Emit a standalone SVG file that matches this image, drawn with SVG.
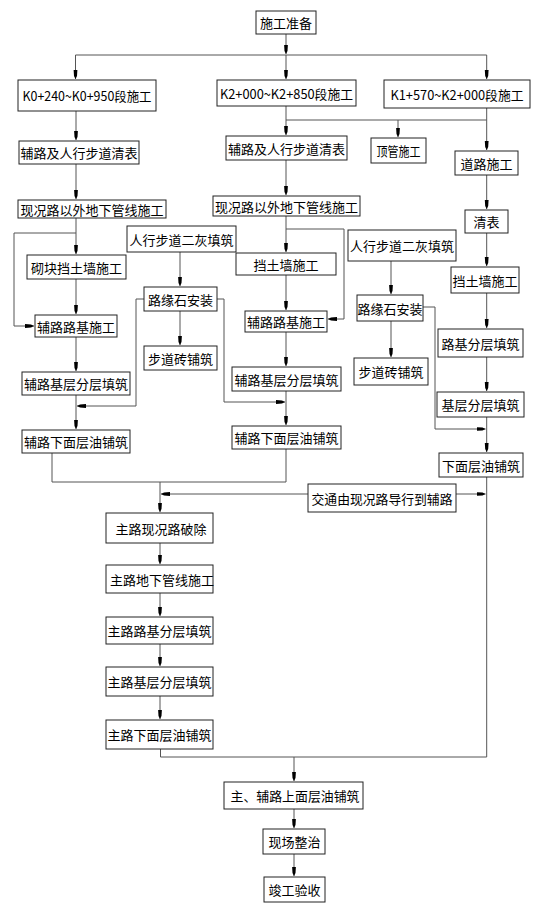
<svg xmlns="http://www.w3.org/2000/svg" width="555" height="921" viewBox="0 0 555 921">
<defs>
<marker id="ah" markerUnits="userSpaceOnUse" markerWidth="9" markerHeight="5" viewBox="0 0 9 5" refX="9" refY="2.5" orient="auto"><path d="M0,0.6 L6,1 L9,2.5 L6,4 L0,4.4 z" fill="#000"/></marker>
<style>
.n rect{fill:#fff;stroke:#222;stroke-width:1}
.n text{font-family:"Noto Sans CJK SC","Liberation Sans",sans-serif;font-size:13px;fill:#000;text-anchor:middle;dominant-baseline:central}
#edges path{fill:none;stroke:#555;stroke-width:1}
#edges path.a{marker-end:url(#ah)}
</style>
</defs>
<rect width="555" height="921" fill="#fff"/>
<g id="edges">
<path class="a" d="M286,34 V54"/>
<path d="M75.5,55 H486.7"/>
<path class="a" d="M75.5,55 V79"/>
<path class="a" d="M286,55 V79"/>
<path class="a" d="M486.7,55 V79"/>
<path class="a" d="M76,111 V140"/>
<path class="a" d="M76,164 V199"/>
<path class="a" d="M76,218 V254"/>
<path class="a" d="M76,233 H14 V326 H34"/>
<path class="a" d="M76,279 V314"/>
<path class="a" d="M76,337 V371"/>
<path class="a" d="M76,395 V429"/>
<path class="a" d="M144,299 H136 V406 H77"/>
<path class="a" d="M180,252 V286"/>
<path class="a" d="M180,311 V345"/>
<path class="a" d="M217,299 H224 V402 H285"/>
<path class="a" d="M286,106 V135"/>
<path d="M286,120 H486.7"/>
<path class="a" d="M398,120 V137"/>
<path class="a" d="M486.7,108 V150"/>
<path class="a" d="M286,160 V195"/>
<path class="a" d="M286,216 V252"/>
<path class="a" d="M286,229 H344 V319 H328"/>
<path class="a" d="M286,275 V310"/>
<path class="a" d="M286,332 V366"/>
<path class="a" d="M286,391 V425"/>
<path class="a" d="M391,261 V294"/>
<path class="a" d="M391,321 V357"/>
<path class="a" d="M423,307 H435 V429 H485.5"/>
<path class="a" d="M486.7,175 V209"/>
<path class="a" d="M486.7,233 V266"/>
<path class="a" d="M486.7,293 V328"/>
<path class="a" d="M486.7,357 V391"/>
<path class="a" d="M486.7,417 V452"/>
<path d="M52,453 V482 H286 V449"/>
<path class="a" d="M160,482 V512"/>
<path class="a" d="M308,494 H161"/>
<path class="a" d="M456,494 H485.5"/>
<path d="M486.7,477 V757 H160.5 V749"/>
<path class="a" d="M294,757 V781"/>
<path class="a" d="M160,543 V564"/>
<path class="a" d="M160,593 V616"/>
<path class="a" d="M160,644 V666"/>
<path class="a" d="M160,696 V719"/>
<path class="a" d="M294,809 V828"/>
<path class="a" d="M294,854 V876"/>
</g>
<g id="n1" class="n"><rect x="256" y="11" width="60" height="23"/><text x="286" y="22.5">施工准备</text></g>
<g id="n2" class="n"><rect x="18" y="80" width="138" height="31"/><text x="87" y="95.5" textLength="129" lengthAdjust="spacingAndGlyphs">K0+240~K0+950段施工</text></g>
<g id="n3" class="n"><rect x="217" y="80" width="139" height="26"/><text x="286.5" y="93" textLength="133" lengthAdjust="spacingAndGlyphs">K2+000~K2+850段施工</text></g>
<g id="n4" class="n"><rect x="384" y="80" width="146" height="28"/><text x="457" y="94" textLength="133" lengthAdjust="spacingAndGlyphs">K1+570~K2+000段施工</text></g>
<g id="n5" class="n"><rect x="19" y="141" width="120" height="23"/><text x="79" y="152.5">辅路及人行步道清表</text></g>
<g id="n6" class="n"><rect x="226" y="136" width="121" height="24"/><text x="286.5" y="148">辅路及人行步道清表</text></g>
<g id="n7" class="n"><rect x="371" y="138" width="55" height="25"/><text x="398.5" y="150.5" textLength="44" lengthAdjust="spacingAndGlyphs">顶管施工</text></g>
<g id="n8" class="n"><rect x="455" y="151" width="63" height="24"/><text x="486.5" y="163">道路施工</text></g>
<g id="n9" class="n"><rect x="18" y="200" width="148" height="18"/><text x="92" y="209">现况路以外地下管线施工</text></g>
<g id="n10" class="n"><rect x="213" y="196" width="147" height="20"/><text x="286.5" y="206">现况路以外地下管线施工</text></g>
<g id="n11" class="n"><rect x="465" y="210" width="43" height="23"/><text x="486.5" y="221.5">清表</text></g>
<g id="n12" class="n"><rect x="127" y="226" width="109" height="26"/><text x="181.5" y="239">人行步道二灰填筑</text></g>
<g id="n13" class="n"><rect x="348" y="230" width="108" height="31"/><text x="402" y="245.5">人行步道二灰填筑</text></g>
<g id="n14" class="n"><rect x="27" y="255" width="99" height="24"/><text x="76.5" y="267">砌块挡土墙施工</text></g>
<g id="n15" class="n"><rect x="236" y="253" width="100" height="22"/><text x="286" y="264">挡土墙施工</text></g>
<g id="n16" class="n"><rect x="451" y="267" width="68" height="26"/><text x="485" y="280">挡土墙施工</text></g>
<g id="n17" class="n"><rect x="144" y="287" width="73" height="24"/><text x="180.5" y="299">路缘石安装</text></g>
<g id="n18" class="n"><rect x="357" y="295" width="66" height="26"/><text x="390" y="308">路缘石安装</text></g>
<g id="n19" class="n"><rect x="35" y="315" width="82" height="22"/><text x="76" y="326">辅路路基施工</text></g>
<g id="n20" class="n"><rect x="245" y="311" width="82" height="21"/><text x="286" y="321.5">辅路路基施工</text></g>
<g id="n21" class="n"><rect x="438" y="329" width="85" height="28"/><text x="480.5" y="343">路基分层填筑</text></g>
<g id="n22" class="n"><rect x="144" y="346" width="73" height="24"/><text x="180.5" y="358">步道砖铺筑</text></g>
<g id="n23" class="n"><rect x="354" y="358" width="74" height="27"/><text x="391" y="371.5">步道砖铺筑</text></g>
<g id="n24" class="n"><rect x="22" y="372" width="108" height="23"/><text x="76" y="383.5">辅路基层分层填筑</text></g>
<g id="n25" class="n"><rect x="232" y="367" width="109" height="24"/><text x="286.5" y="379">辅路基层分层填筑</text></g>
<g id="n26" class="n"><rect x="437" y="392" width="87" height="25"/><text x="480.5" y="404.5">基层分层填筑</text></g>
<g id="n27" class="n"><rect x="22" y="430" width="108" height="23"/><text x="76" y="441.5">辅路下面层油铺筑</text></g>
<g id="n28" class="n"><rect x="232" y="426" width="109" height="23"/><text x="286.5" y="437.5">辅路下面层油铺筑</text></g>
<g id="n29" class="n"><rect x="439" y="453" width="84" height="24"/><text x="481" y="465">下面层油铺筑</text></g>
<g id="n30" class="n"><rect x="308" y="484" width="148" height="28"/><text x="382" y="498" textLength="141" lengthAdjust="spacingAndGlyphs">交通由现况路导行到辅路</text></g>
<g id="n31" class="n"><rect x="106" y="513" width="107" height="30"/><text x="161" y="528">主路现况路破除</text></g>
<g id="n32" class="n"><rect x="106" y="565" width="107" height="28"/><text x="162" y="579">主路地下管线施工</text></g>
<g id="n33" class="n"><rect x="106" y="617" width="107" height="27"/><text x="159.5" y="630.5">主路路基分层填筑</text></g>
<g id="n34" class="n"><rect x="106" y="667" width="107" height="29"/><text x="159.5" y="681.5">主路基层分层填筑</text></g>
<g id="n35" class="n"><rect x="106" y="720" width="107" height="29"/><text x="159.5" y="734.5">主路下面层油铺筑</text></g>
<g id="n36" class="n"><rect x="224" y="782" width="139" height="27"/><text x="295" y="795.5" textLength="129" lengthAdjust="spacingAndGlyphs">主、辅路上面层油铺筑</text></g>
<g id="n37" class="n"><rect x="263" y="829" width="62" height="25"/><text x="294.5" y="841.5">现场整治</text></g>
<g id="n38" class="n"><rect x="264" y="877" width="61" height="25"/><text x="294.5" y="889.5">竣工验收</text></g>
</svg>
